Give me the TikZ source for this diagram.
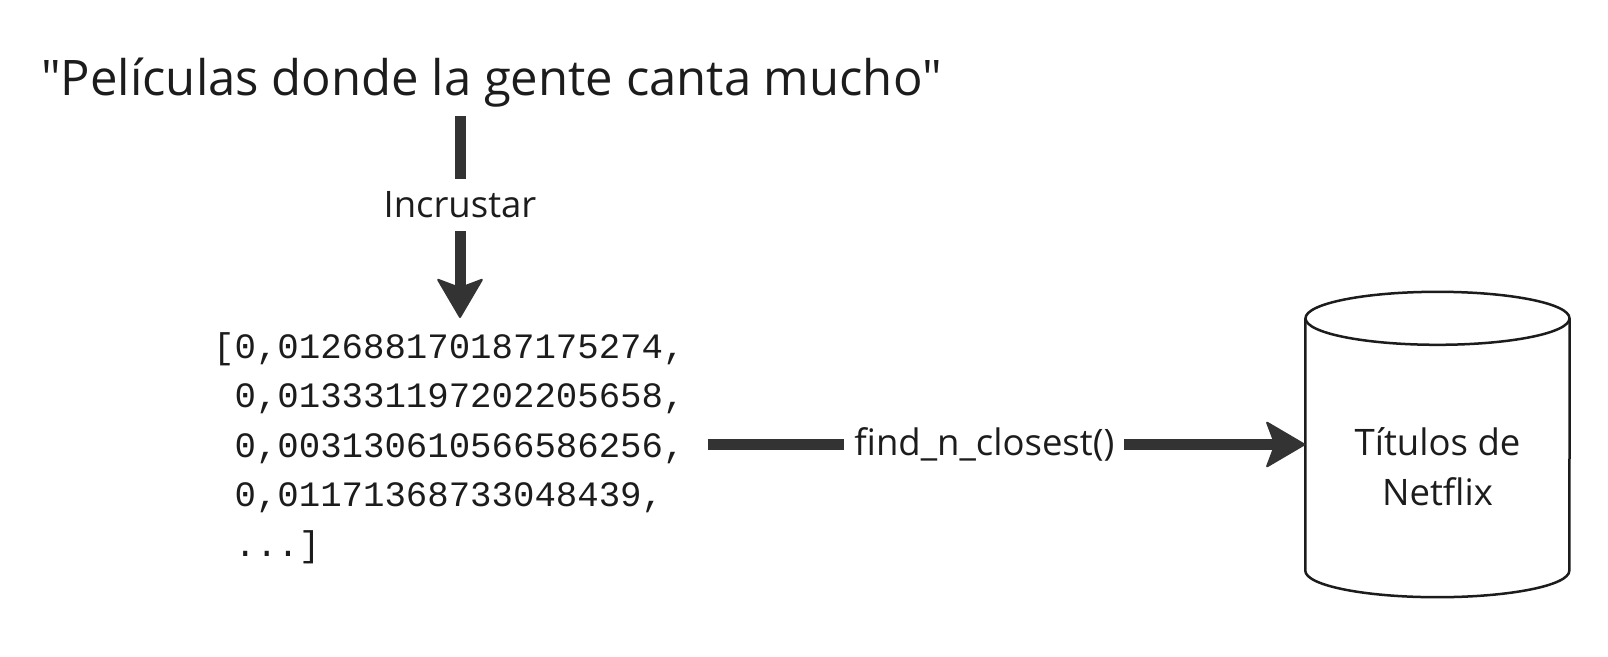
\documentclass[tikz,border=0pt]{standalone}
\usepackage{fontspec}
\setmainfont{Open Sans}
\newfontfamily\queryfont{Open Sans}[Ligatures=TeXOff]
\newfontfamily\vecmono{Liberation Mono}
\usetikzlibrary{arrows.meta, positioning}

\definecolor{arrowgray}{HTML}{333333}
\definecolor{inkblack}{HTML}{1C1C1C}

\begin{document}
\begin{tikzpicture}[
x=1pt, y=-1pt,
flow/.style = {draw=arrowgray, line width=11pt,
  -{Stealth[length=41pt, width=48pt, inset=9pt, round, line width=2pt]}},
flow label/.style = {fill=white, inner xsep=10pt, inner ysep=12.5pt, text=inkblack,
  font=\fontsize{36.5}{49}\selectfont},
query text/.style = {inner sep=0pt, text=inkblack, font=\queryfont\fontsize{49}{60}\selectfont},
vec block/.style = {inner sep=0pt, align=left, text=inkblack,
  font=\vecmono\fontsize{35.7}{49.5}\selectfont},
db box/.style = {minimum width=264pt, minimum height=305pt, inner sep=0pt},
db text/.style = {align=center, text=inkblack, font=\fontsize{36.5}{50}\selectfont},
db line/.style = {draw=inkblack, line width=2.5pt}
]
\useasboundingbox[fill=white] (0,0) rectangle (1608,656);

% query and embedding
\node[query text, anchor=base west] (query) at (41,95) {"Películas donde la gente canta mucho"};

\node[vec block, anchor=west] (vec) at (213,448)
  {[0,012688170187175274,\\
   \phantom{[}0,013331197202205658,\\
   \phantom{[}0,003130610566586256,\\
   \phantom{[}0,01171368733048439,\\
   \phantom{[}...]};

\coordinate (embed top) at (460,116);
\coordinate (embed tip) at (460,318);
\draw[flow] (embed top) -- node[flow label, pos=0.44] {Incrustar} (embed tip);

% database
\node[db box] (db) at (1437.5,444.5) {};
\draw[db line] ([yshift=-26.5pt]db.north) ellipse [x radius=132pt, y radius=26.5pt];
\draw[db line] ([yshift=-26.5pt]db.north west) -- ([yshift=26.5pt]db.south west)
  arc[start angle=180, end angle=360, x radius=132pt, y radius=26.5pt]
  -- ([yshift=-26.5pt]db.north east);
\node[db text] (db label) at ([yshift=-22pt]db.center) {Títulos de\\Netflix};

\coordinate (vec out) at ([xshift=23pt]vec.east);
\draw[flow] (vec out |- db.west) -- node[flow label, pos=0.463] {find\_n\_closest()} (db.west);
\end{tikzpicture}
\end{document}
